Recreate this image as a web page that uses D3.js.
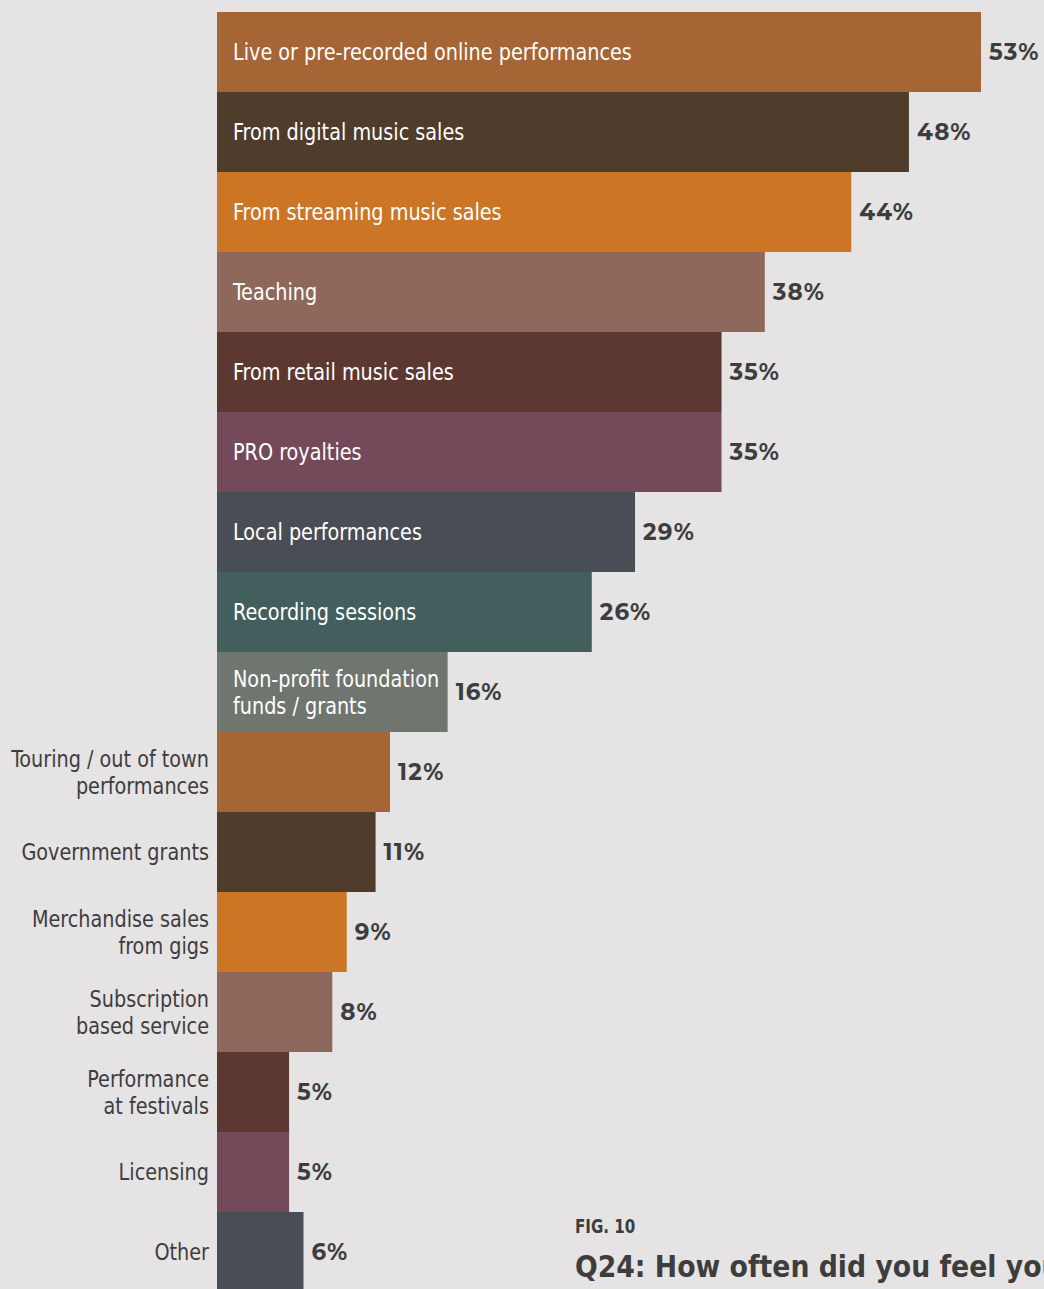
<!DOCTYPE html>
<html>
<head>
<meta charset="utf-8">
<script src="https://cdn.jsdelivr.net/npm/d3@7"></script>
<style>
  html, body { margin: 0; padding: 0; background: #e5e3e4; overflow: hidden; }
  svg { display: block; }
</style>
</head>
<body>
<svg id="chart" width="1044" height="1289"></svg>
<script>
// Income sources, in display order (top to bottom)
const categories = [
  "Live or pre-recorded online performances",
  "From digital music sales",
  "From streaming music sales",
  "Teaching",
  "From retail music sales",
  "PRO royalties",
  "Local performances",
  "Recording sessions",
  "Non-profit foundation|funds / grants",
  "Touring / out of town|performances",
  "Government grants",
  "Merchandise sales|from gigs",
  "Subscription|based service",
  "Performance|at festivals",
  "Licensing",
  "Other"
];
// Share of respondents (%)
const values = [53, 48, 44, 38, 35, 35, 29, 26, 16, 12, 11, 9, 8, 5, 5, 6];
// Bars whose label fits inside the bar
const labelInside = [true, true, true, true, true, true, true, true, true,
                     false, false, false, false, false, false, false];
// Repeating bar palette
const palette = ["#a66535", "#4f3c2b", "#cc7625", "#8e695b", "#5d3831",
                 "#744a5a", "#494e56", "#435f5d", "#6f766f"];
const figLabel = "FIG. 10";
const figTitle = "Q24: How often did you feel your";

const svg = d3.select("#chart");
const x0 = 217, barH = 80, plotTop = 12;

const x = d3.scaleLinear().domain([0, 53]).range([x0, 981]);
const y = d3.scaleBand().domain(d3.range(categories.length))
  .range([plotTop, plotTop + barH * categories.length]).padding(0);

const labelFont = "'DejaVu Sans Condensed', 'DejaVu Sans', sans-serif";
const valueFont = "Montserrat, 'Open Sans', Lato, sans-serif";

// Narrow a text horizontally about its anchor x
const squeeze = (ax, s) => `translate(${ax},0) scale(${s},1) translate(${-ax},0)`;

const g = svg.append("g");
const rows = g.selectAll("g.row").data(categories).join("g").attr("class", "row");

rows.append("rect")
  .attr("x", x(0))
  .attr("y", (d, i) => y(i))
  .attr("width", (d, i) => x(values[i]) - x(0))
  .attr("height", y.bandwidth())
  .attr("fill", (d, i) => palette[i % palette.length]);

// Category labels: inside bars (white, left) or outside (grey, right-aligned)
rows.each(function (d, i) {
  const lines = d.split("|");
  const cy = y(i) + y.bandwidth() / 2;
  const lh = 27;
  const inside = labelInside[i];
  const ax = inside ? x(0) + 16 : x(0) - 8;
  const t = d3.select(this).append("text")
    .attr("x", ax)
    .attr("text-anchor", inside ? "start" : "end")
    .attr("fill", inside ? "#ffffff" : "#3d3d3d")
    .attr("font-family", labelFont)
    .attr("font-size", 23)
    .attr("font-weight", 400)
    .attr("transform", squeeze(ax, 0.93));
  lines.forEach((ln, k) => {
    t.append("tspan")
      .attr("x", ax)
      .attr("y", cy + (k - (lines.length - 1) / 2) * lh)
      .attr("dy", "0.35em")
      .text(ln);
  });
});

// Value labels
rows.append("text")
  .attr("x", (d, i) => x(values[i]) + 8)
  .attr("y", (d, i) => y(i) + y.bandwidth() / 2)
  .attr("dy", "0.36em")
  .attr("fill", "#3d3d3d")
  .attr("font-family", valueFont)
  .attr("font-weight", 700)
  .attr("font-size", 23)
  .attr("letter-spacing", 1.2)
  .text((d, i) => values[i] + "%");

// Figure caption
svg.append("text")
  .attr("x", 575).attr("y", 1233)
  .attr("fill", "#3d3d3d")
  .attr("font-family", labelFont)
  .attr("font-weight", 700)
  .attr("font-size", 20)
  .attr("transform", squeeze(575, 0.84))
  .text(figLabel);
svg.append("text")
  .attr("x", 575).attr("y", 1277)
  .attr("fill", "#3d3d3d")
  .attr("font-family", labelFont)
  .attr("font-weight", 700)
  .attr("font-size", 30)
  .attr("transform", squeeze(575, 0.99))
  .text(figTitle);
</script>
</body>
</html>
